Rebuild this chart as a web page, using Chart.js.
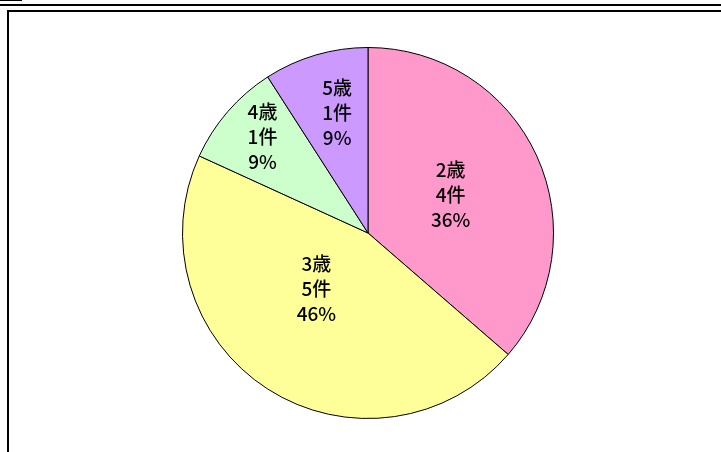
<!DOCTYPE html>
<html><head><meta charset="utf-8">
<script src="https://cdn.jsdelivr.net/npm/chart.js@4/dist/chart.umd.min.js"></script>
<style>
html,body{margin:0;padding:0;background:#fff;width:721px;height:452px;overflow:hidden;}
#topline{position:absolute;left:0;top:4px;width:721px;height:2px;background:#000;}
#stub{position:absolute;left:0;top:0;width:22px;height:1px;background:#000;}
#frame{position:absolute;left:7px;top:10px;width:800px;height:500px;border-left:2px solid #000;border-top:2px solid #000;}
#c{position:absolute;left:0;top:0;}
</style></head>
<body>
<div id="stub"></div>
<div id="topline"></div>
<div id="frame"></div>
<canvas id="c" width="721" height="452"></canvas>
<script>
const categories = ['2歳', '3歳', '4歳', '5歳'];
const counts = [4, 5, 1, 1];
const percentLabels = ['36%', '46%', '9%', '9%'];
const countUnit = '件';
const colors = ['#FF99CC', '#FFFF99', '#CCFFCC', '#CC99FF'];

// label placement: [radius fraction, angle offset in degrees]
const labelPlace = [[0.49, 0], [0.41, 10], [0.77, 1.5], [0.67, 2]];

const labelPlugin = {
  id: 'sliceLabels',
  afterDatasetsDraw(chart) {
    const ctx = chart.ctx;
    const meta = chart.getDatasetMeta(0);
    ctx.save();
    ctx.fillStyle = '#000';
    ctx.font = '500 19px "Noto Sans CJK JP", sans-serif';
    ctx.textAlign = 'center';
    ctx.textBaseline = 'middle';
    meta.data.forEach((arc, i) => {
      const p = arc.getProps(['x', 'y', 'startAngle', 'endAngle', 'outerRadius'], true);
      const mid = (p.startAngle + p.endAngle) / 2 + labelPlace[i][1] * Math.PI / 180;
      const r = p.outerRadius * labelPlace[i][0];
      const cx = p.x + Math.cos(mid) * r;
      const cy = p.y + Math.sin(mid) * r;
      const lines = [categories[i], counts[i] + countUnit, percentLabels[i]];
      const lh = 25;
      lines.forEach((t, k) => {
        ctx.fillText(t, cx, cy + (k - 1) * lh);
      });
    });
    ctx.restore();
  }
};

new Chart(document.getElementById('c'), {
  type: 'pie',
  data: {
    labels: categories,
    datasets: [{
      data: counts,
      backgroundColor: colors,
      borderColor: '#000',
      borderWidth: 1
    }]
  },
  options: {
    responsive: false,
    animation: false,
    layout: { padding: { left: 182, right: 167, top: 47, bottom: 33 } },
    plugins: { legend: { display: false }, tooltip: { enabled: false } }
  },
  plugins: [labelPlugin]
});
</script>
</body></html>
